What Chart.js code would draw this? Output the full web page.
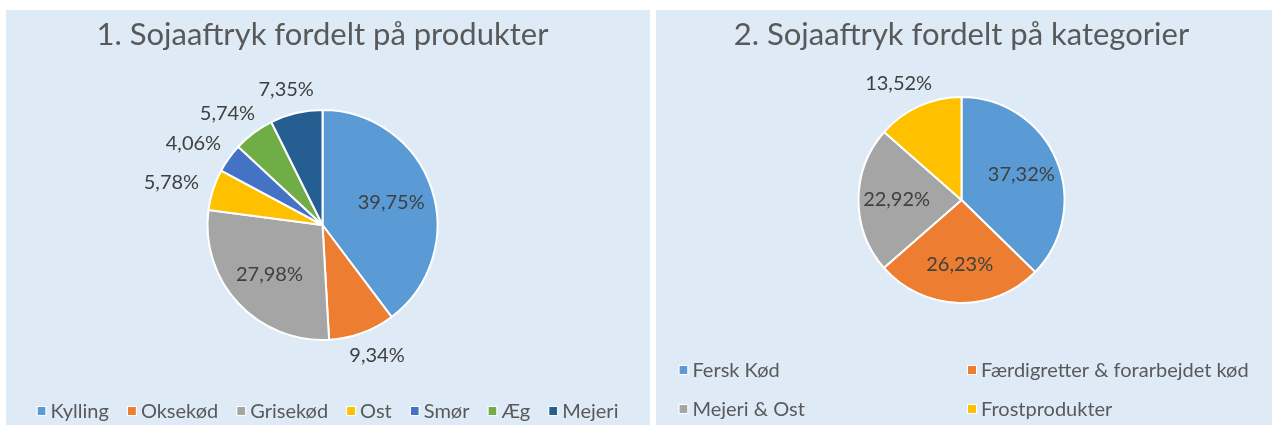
<!DOCTYPE html>
<html><head><meta charset="utf-8">
<script src="https://cdn.jsdelivr.net/npm/chart.js@4.4.1/dist/chart.umd.min.js"></script>
<style>
html,body{margin:0;padding:0;background:#fff;width:1272px;height:425px;overflow:hidden;}
.panel{position:absolute;top:10px;height:415px;background:#DEEBF7;}
#p1{left:6px;width:644px;}
#p2{left:656px;width:616px;}
canvas{display:block;}
</style></head><body>
<div class="panel" id="p1"><canvas id="c1" width="644" height="415"></canvas></div>
<div class="panel" id="p2"><canvas id="c2" width="616" height="415"></canvas></div>
<script>
// ---- data ----
const productTitle = '1. Sojaaftryk fordelt på produkter';
const productLabels = ['Kylling', 'Oksekød', 'Grisekød', 'Ost', 'Smør', 'Æg', 'Mejeri'];
const productShares = [39.75, 9.34, 27.98, 5.78, 4.06, 5.74, 7.35];
const productColors = ['#5B9BD5', '#ED7D31', '#A5A5A5', '#FFC000', '#4472C4', '#70AD47', '#255E91'];

const categoryTitle = '2. Sojaaftryk fordelt på kategorier';
const categoryLabels = ['Fersk Kød', 'Færdigretter & forarbejdet kød', 'Mejeri & Ost', 'Frostprodukter'];
const categoryShares = [37.32, 26.23, 22.92, 13.52];
const categoryColors = ['#5B9BD5', '#ED7D31', '#A5A5A5', '#FFC000'];

const FONT = 'Lato, "Open Sans", sans-serif';

function fmtPct(v) { return v.toFixed(2).replace('.', ',') + '%'; }

const titlePlugin = {
  id: 'ttl',
  afterDraw(chart, args, o) {
    const ctx = chart.ctx, a = chart.chartArea;
    ctx.save();
    ctx.font = o.font; ctx.fillStyle = o.color;
    ctx.textAlign = 'center'; ctx.textBaseline = 'middle';
    ctx.fillText(o.text, (a.left + a.right) / 2, o.y);
    ctx.restore();
  }
};

function placeBox(p, ang, w, h, gap) {
  const c = Math.cos(ang), s = Math.sin(ang), r = p.outerRadius + gap;
  const cx = p.x + c * r + c * w / 2, cy = p.y + s * r + s * h / 2;
  return {cx, cy, l: cx - w / 2, r: cx + w / 2, t: cy - h / 2, b: cy + h / 2};
}
function overlaps(a, b) { return a.l < b.r && b.l < a.r && a.t < b.b && b.t < a.b; }

const labelPlugin = {
  id: 'pieLabels',
  afterDatasetsDraw(chart, args, o) {
    const ctx = chart.ctx, meta = chart.getDatasetMeta(0), data = chart.data.datasets[0].data;
    const total = data.reduce((s, v) => s + v, 0);
    ctx.save();
    ctx.font = o.font; ctx.fillStyle = o.color;
    ctx.textAlign = 'center'; ctx.textBaseline = 'middle';
    const outside = [];
    meta.data.forEach((arc, i) => {
      const p = arc.getProps(['x', 'y', 'startAngle', 'endAngle', 'outerRadius'], true);
      const mid = (p.startAngle + p.endAngle) / 2;
      const text = fmtPct(data[i]);
      if (data[i] / total >= o.insideMin) {
        const r = p.outerRadius * o.insideRatio;
        ctx.fillText(text, p.x + Math.cos(mid) * r, p.y + Math.sin(mid) * r);
      } else outside.push({p, mid, text});
    });
    const placed = [];
    outside.reverse().forEach(it => {
      const w = ctx.measureText(it.text).width;
      let ang = it.mid, box = placeBox(it.p, ang, w, o.lineHeight, o.gap);
      for (let k = 0; k < 60 && placed.some(b => overlaps(b, box)); k++) {
        ang -= Math.PI / 180;
        box = placeBox(it.p, ang, w, o.lineHeight, o.gap);
      }
      placed.push(box);
      ctx.fillText(it.text, box.cx, box.cy);
    });
    ctx.restore();
  }
};

const legendPlugin = {
  id: 'leg',
  afterDraw(chart, args, o) {
    const ctx = chart.ctx, labels = chart.data.labels, colors = chart.data.datasets[0].backgroundColor;
    ctx.save();
    ctx.font = o.font; ctx.textBaseline = 'middle'; ctx.textAlign = 'left';
    const n = labels.length, cols = o.columns || n;
    const widths = labels.map(t => o.box + o.gap + ctx.measureText(t).width);
    let colW;
    if (cols === n) colW = widths.slice();
    else { const m = Math.max(...widths); colW = new Array(cols).fill(m); }
    const total = colW.reduce((s, v) => s + v, 0) + o.spacing * (cols - 1);
    const x0 = (chart.width - total) / 2;
    labels.forEach((t, i) => {
      const c = i % cols, r = Math.floor(i / cols);
      let x = x0;
      for (let k = 0; k < c; k++) x += colW[k] + o.spacing;
      const y = o.y + r * o.rowGap;
      ctx.fillStyle = colors[i];
      ctx.fillRect(x, y - o.box / 2, o.box, o.box);
      ctx.strokeStyle = '#ffffff'; ctx.lineWidth = 1;
      ctx.strokeRect(x - 0.5, y - o.box / 2 - 0.5, o.box + 1, o.box + 1);
      ctx.fillStyle = o.color;
      ctx.fillText(t, x + o.box + o.gap, y + 1);
    });
    ctx.restore();
  }
};

function makePie(id, title, labels, values, colors, radius, padding, legendOpts) {
  return new Chart(document.getElementById(id), {
    type: 'pie',
    data: { labels, datasets: [{ data: values, backgroundColor: colors, borderColor: '#ffffff', borderWidth: 2, radius }] },
    options: {
      responsive: false, animation: false, events: [],
      layout: { padding },
      plugins: {
        legend: { display: false }, tooltip: { enabled: false },
        ttl: { text: title, font: '31px ' + FONT, color: '#595959', y: 25 },
        pieLabels: { font: '20px ' + FONT, color: '#404040', insideMin: 0.15, insideRatio: 0.63, gap: 16, lineHeight: 17 },
        leg: Object.assign({ font: '20px ' + FONT, color: '#595959', box: 8, gap: 5 }, legendOpts)
      }
    },
    plugins: [titlePlugin, labelPlugin, legendPlugin]
  });
}

makePie('c1', productTitle, productLabels, productShares, productColors, 115,
  { left: 100, right: 111, top: 80, bottom: 65 },
  { y: 401, spacing: 19, rowGap: 0 });
makePie('c2', categoryTitle, categoryLabels, categoryShares, categoryColors, 103,
  { left: 100, right: 105, top: 80, bottom: 115 },
  { y: 360, spacing: 8, rowGap: 39, columns: 2 });
</script>
</body></html>
